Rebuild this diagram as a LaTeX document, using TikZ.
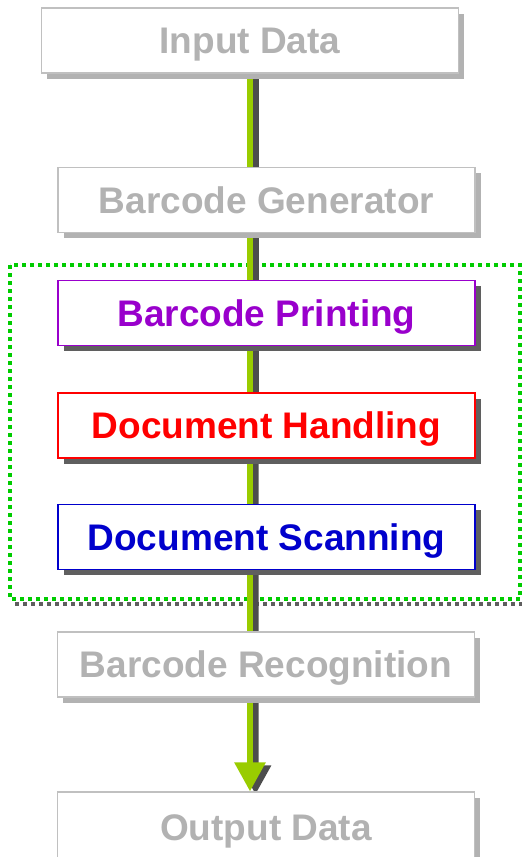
\documentclass[tikz,border=0pt]{standalone}
\usepackage{fontspec}
\setmainfont{Liberation Sans}
\usetikzlibrary{shadows,arrows.meta,backgrounds}
\definecolor{fadetext}{RGB}{178,178,178}
\definecolor{fadeline}{RGB}{192,192,192}
\definecolor{darkshadow}{RGB}{95,95,95}
\definecolor{arrowgreen}{RGB}{153,204,0}
\definecolor{arrowshadow}{RGB}{77,77,77}
\definecolor{dotgreen}{RGB}{0,204,0}
\definecolor{purp}{RGB}{153,0,204}
\definecolor{blu}{RGB}{0,0,204}
\begin{document}
\begin{tikzpicture}
  [x=1pt,y=-1pt,
   every node/.style={rectangle,minimum width=417pt,minimum height=65pt,fill=white,
     line width=1.3pt,text height=26.5pt,text depth=0pt,
     font=\fontsize{37}{44}\selectfont\bfseries},
   faded/.style={draw=fadeline,text=fadetext,
     drop shadow={shadow xshift=5.5pt,shadow yshift=-5.5pt,fill=fadetext,opacity=1}},
   active/.style={draw=#1,text=#1,
     drop shadow={shadow xshift=5.5pt,shadow yshift=-5.5pt,fill=darkshadow,opacity=1}}]
  \useasboundingbox (0,0) rectangle (522,857);
  \node[faded] (inp) at (250,40.5) {Input Data};
  \node[faded] (gen) at (266.5,200) {Barcode Generator};
  \node[active=purp] (prt) at (266.5,313) {Barcode Printing};
  \node[active=red] (hdl) at (266.5,425.5) {Document Handling};
  \node[active=blu] (scn) at (266.5,537) {Document Scanning};
  \node[faded] (rec) at (266,664.5) {Barcode Recognition};
  \node[faded,minimum height=70pt] (out) at (266,827) {Output Data};

  \begin{scope}[on background layer]
    \draw[darkshadow,line width=3.5pt,dash pattern=on 4pt off 4pt] (15,604) -- (525,604) -- (525,270);
    \draw[dotgreen,line width=3.5pt,dash pattern=on 4pt off 4pt] (10,265) rectangle (520,599);
    \draw[arrowshadow,line width=6pt,-{Triangle[width=30pt,length=29pt]}]
      ([xshift=6pt]inp.south) -- ([xshift=5.5pt,yshift=-3pt]inp.south |- out.north);
    \draw[arrowgreen,line width=6pt,-{Triangle[width=30pt,length=29pt]}]
      (inp.south) -- (inp.south |- out.north);
  \end{scope}
\end{tikzpicture}
\end{document}
